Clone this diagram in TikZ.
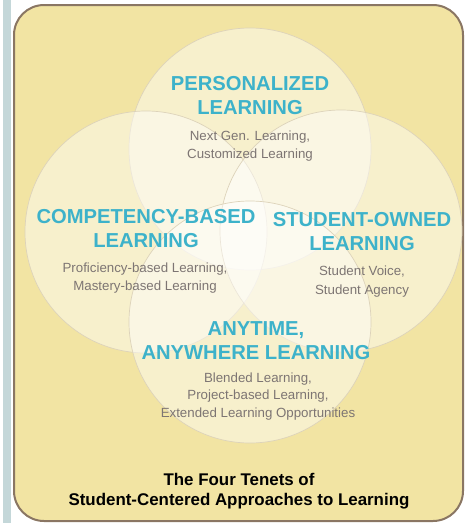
\documentclass[tikz,border=0pt]{standalone}
\usepackage{fontspec}
\setmainfont{Liberation Sans}
\usetikzlibrary{positioning}
\definecolor{panel}{HTML}{F2E4A3}
\definecolor{panelrim}{HTML}{8A7663}
\definecolor{strip}{HTML}{C4D7D9}
\definecolor{tenet}{HTML}{3DB2CA}
\definecolor{aka}{HTML}{7D7573}
\definecolor{ring}{HTML}{DDD3BA}

\begin{document}
\begin{tikzpicture}[x=1pt,y=-1pt,
  tenet circle/.style={circle,minimum size=242pt,inner sep=0pt,draw=ring,line width=0.7pt,fill=white,fill opacity=0.45},
  heading/.style={text=tenet,font=\fontsize{20.2}{24}\selectfont\bfseries,align=center,inner sep=0pt},
  aka text/.style={text=aka,font=\fontsize{13.3}{17.5}\selectfont,align=center,inner sep=0pt}]
\useasboundingbox (0,0) rectangle (464,523);
\fill[strip] (3,0) rectangle (11,523);
\draw[panelrim,fill=panel,line width=2pt,rounded corners=30pt] (14,5) rectangle (463,521);
\begin{scope}
  \node[tenet circle] (c-perso) at (250,149) {};
  \node[tenet circle] (c-comp) at (146,232) {};
  \node[tenet circle] (c-owned) at (341,231) {};
  \node[tenet circle] (c-any) at (250,322) {};
\end{scope}
\begin{scope}
  \node[heading] (perso) at (250,96) {PERSONALIZED\\LEARNING};
  \node[aka text] (perso-aka) at (250,146) {Next Gen. Learning,\\Customized Learning};
  \node[heading] (comp) at (146,229) {COMPETENCY-BASED\\LEARNING};
  \node[aka text] (comp-aka) at (145,278) {Proficiency-based Learning,\\Mastery-based Learning};
  \node[heading] (owned) at (362,231.5) {STUDENT-OWNED\\LEARNING};
  \node[aka text,font=\fontsize{13.3}{19}\selectfont] (owned-aka) at (362,281.5) {Student Voice,\\Student Agency};
  \node[heading] (any) at (256,340.5) {ANYTIME,\\ANYWHERE LEARNING};
  \node[aka text] (any-aka) at (258,396.5) {Blended Learning,\\Project-based Learning,\\Extended Learning Opportunities};
\end{scope}
\node[text=black,font=\fontsize{16.9}{20}\selectfont\bfseries,align=center,inner sep=0pt] (tenets) at (239,491) {The Four Tenets of\\Student-Centered Approaches to Learning};
\end{tikzpicture}
\end{document}
